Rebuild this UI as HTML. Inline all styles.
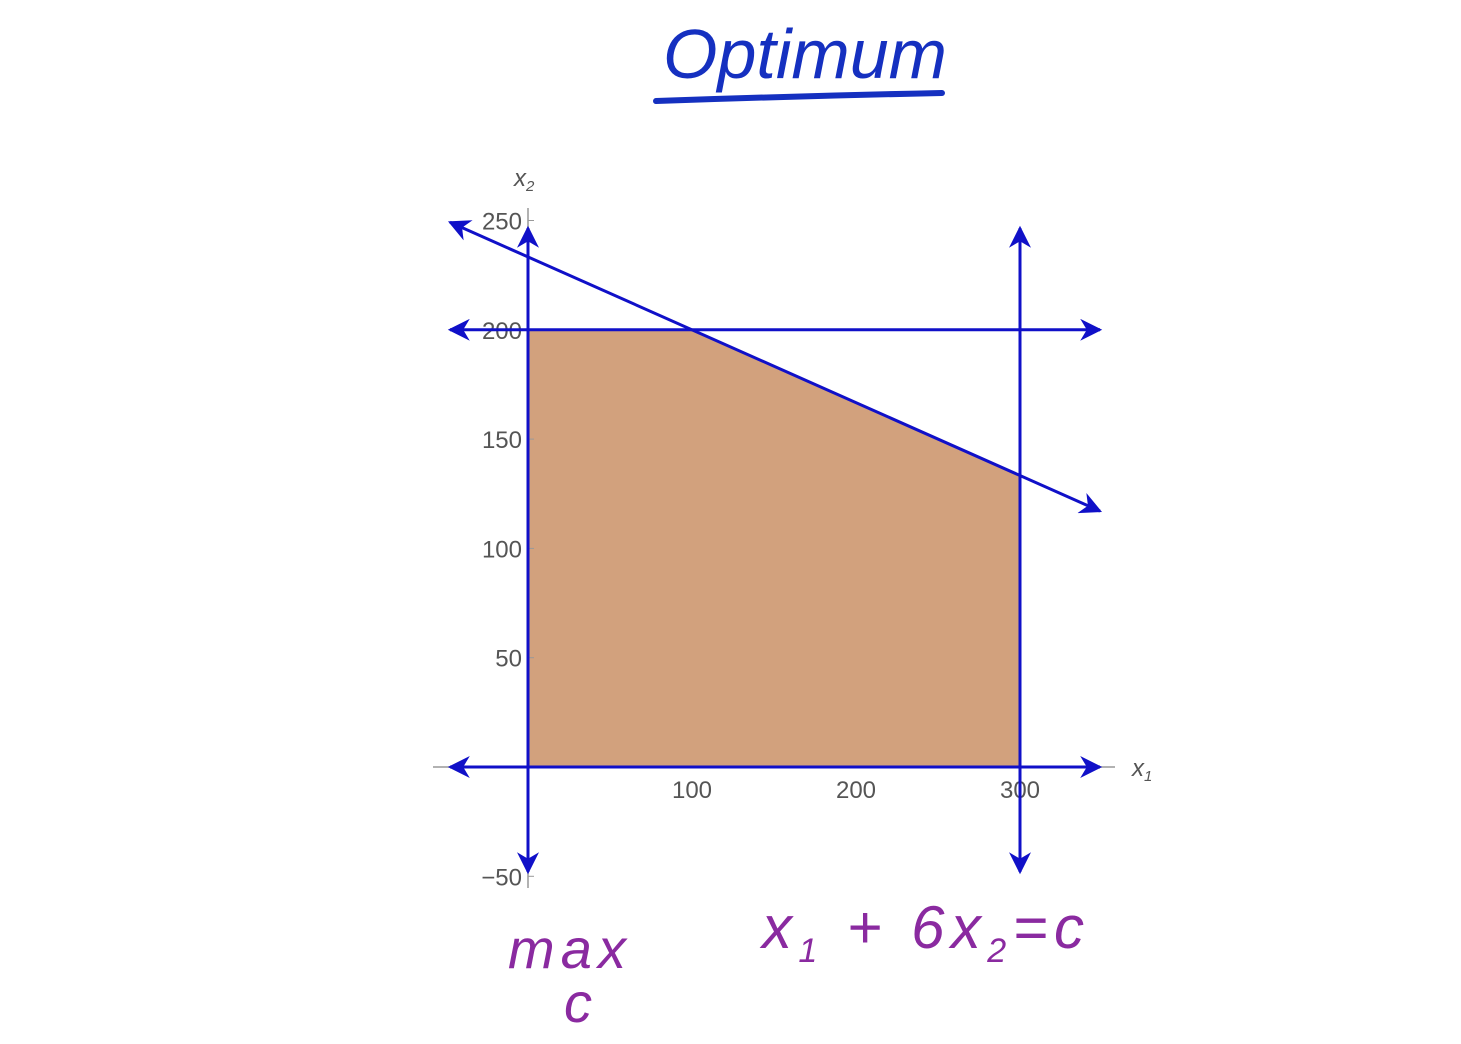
<!DOCTYPE html>
<html><head><meta charset="utf-8"><style>
body{margin:0;background:#fff;width:1461px;height:1039px;overflow:hidden}
svg text{font-family:"Liberation Sans",sans-serif}
</style></head><body>
<svg width="1461" height="1039">
<defs>
<marker id="ah2" viewBox="0 0 10 10" refX="9" refY="5" markerWidth="32" markerHeight="22" markerUnits="userSpaceOnUse" orient="auto-start-reverse">
<path d="M0,0 L10,5 L0,10 L3,5 z" fill="#1010c8"/></marker>
</defs>
<g>
<text x="805" y="78" text-anchor="middle" font-size="70" fill="#1530c0" font-style="italic" font-family="'DejaVu Sans',sans-serif">Optimum</text>
<path d="M656,101 Q800,96 942,93" stroke="#1530c0" stroke-width="6" fill="none" stroke-linecap="round"/>
</g>
<g id="plot"></g>
<text x="762" y="948" font-size="60" fill="#8a2aa0" font-style="italic" font-family="'DejaVu Sans',sans-serif" textLength="322" lengthAdjust="spacing">x<tspan font-size="34" dy="14">1</tspan><tspan dy="-14"> + 6x</tspan><tspan font-size="34" dy="14">2</tspan><tspan dy="-14">=c</tspan></text>
<text x="508" y="968" font-size="56" fill="#8a2aa0" font-style="italic" font-family="'DejaVu Sans',sans-serif" textLength="118" lengthAdjust="spacing">max</text>
<text x="564" y="1022" font-size="56" fill="#8a2aa0" font-style="italic" font-family="'DejaVu Sans',sans-serif">c</text>
</svg>
<script>
const xTicks=[100,200,300];
const yTicks=[-50,50,100,150,200,250];
const region=[[0,0],[0,200],[100,200],[300,133.33],[300,0]];
const constraintC=700; // x1+3x2=700
const hLine=200;
const vLine=300;
const X=v=>528+v*1.64, Y=v=>767-v*2.186;
const NS="http://www.w3.org/2000/svg", g=document.getElementById('plot');
function mk(t,a,p){const e=document.createElementNS(NS,t);for(const k in a)e.setAttribute(k,a[k]);(p||g).appendChild(e);return e;}
let poly=mk('polygon',{points:region.map(p=>X(p[0])+','+Y(p[1])).join(' '),fill:'#d2a17d'});


let ax=mk('line',{x1:433,y1:Y(0),x2:1115,y2:Y(0),stroke:'#999','stroke-width':1.5});


let ay=mk('line',{x1:X(0),y1:208,x2:X(0),y2:888,stroke:'#999','stroke-width':1.5});


xTicks.forEach(t=>{const e=mk('text',{x:X(t),y:798,'text-anchor':'middle','font-size':24,fill:'#555'});e.textContent=t;

});
yTicks.forEach(t=>{mk('line',{x1:X(0),y1:Y(t),x2:X(0)+6,y2:Y(t),stroke:'#999'});const e=mk('text',{x:X(0)-6,y:Y(t)+9,'text-anchor':'end','font-size':24,fill:'#555'});e.textContent=String(t).replace('-','\u2212');

});
let xl=mk('text',{x:1132,y:776,'font-size':24,fill:'#555','font-style':'italic'});xl.innerHTML='x<tspan font-size="15" dy="5">1</tspan>';


let yl=mk('text',{x:514,y:186,'font-size':24,fill:'#555','font-style':'italic'});yl.innerHTML='x<tspan font-size="15" dy="5">2</tspan>';


function L(x1,y1,x2,y2,name){const e=mk('line',{x1,y1,x2,y2,stroke:'#1010c8','stroke-width':3,'marker-start':'url(#ah2)','marker-end':'url(#ah2)'});

}
L(450,Y(0),1100,Y(0),'line-x2-zero');
L(450,Y(hLine),1100,Y(hLine),'line-x2-200');
L(X(0),228,X(0),872,'line-x1-zero');
L(X(vLine),228,X(vLine),872,'line-x1-300');
const d=x=>(constraintC-x)/3;
L(450,Y(d((450-528)/1.64)),1100,Y(d((1100-528)/1.64)),'line-constraint');
</script>
</body></html>
